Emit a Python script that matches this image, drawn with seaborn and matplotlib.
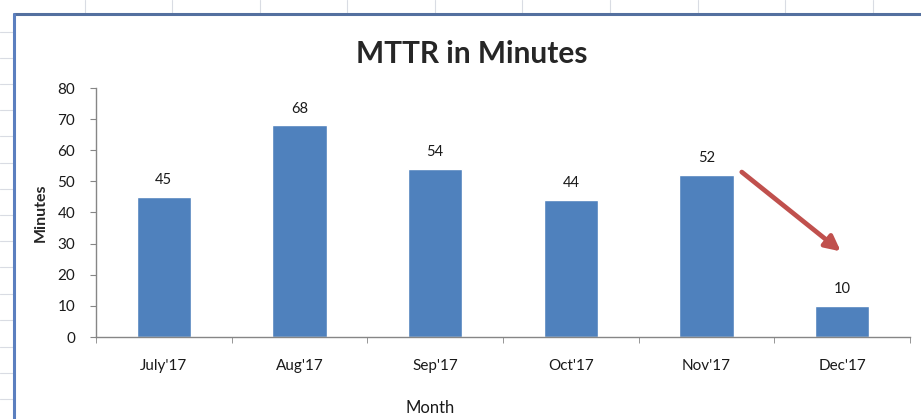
import pandas as pd
import seaborn as sns
import matplotlib.pyplot as plt
from matplotlib.lines import Line2D

# data
months = ["July'17", "Aug'17", "Sep'17", "Oct'17", "Nov'17", "Dec'17"]
mttr = [45, 68, 54, 44, 52, 10]
y_ticks = [0, 10, 20, 30, 40, 50, 60, 70, 80]

df = pd.DataFrame({'Month': months, 'Minutes': mttr})

sns.set_style("white")
plt.rcParams['font.family'] = ['Lato', 'DejaVu Sans']

fig = plt.figure(figsize=(9.21, 4.19), dpi=100)
W, H = 921, 419

# spreadsheet cell grid behind the chart
grid_c = '#d9dce3'
for gx in [85, 172, 260, 347, 435, 522, 610, 698, 785, 873]:
    fig.add_artist(Line2D([gx / W, gx / W], [1, 1 - 14 / H], color=grid_c, lw=0.8))
for gy in [32, 58, 84, 110, 136, 163, 189, 215, 241, 267, 294, 320, 347, 373, 399]:
    fig.add_artist(Line2D([0, 13.5 / W], [1 - gy / H, 1 - gy / H], color=grid_c, lw=0.8))

# chart frame
frame_c = '#5b7fbf'
fig.add_artist(Line2D([13.5 / W, 1], [1 - 14 / H, 1 - 14 / H], color='#54709f', lw=2.2))
fig.add_artist(Line2D([13.5 / W, 13.5 / W], [0, 1 - 14 / H], color=frame_c, lw=2.2))

ax = fig.add_axes([96 / W, 1 - 337 / H, (910 - 96) / W, (337 - 88) / H])

sns.barplot(data=df, x='Month', y='Minutes', color='#4f81bd', width=0.4,
            saturation=1, ax=ax)

for container in ax.containers:
    ax.bar_label(container, fmt='%d', padding=7, fontsize=10.5, color='#1a1a1a')

ax.set_xlim(-0.5, len(months) - 0.5)
ax.set_ylim(0, 80)
ax.set_yticks(y_ticks)

axis_c = '#868686'
for side in ['top', 'right']:
    ax.spines[side].set_visible(False)
for side in ['left', 'bottom']:
    ax.spines[side].set_color(axis_c)
    ax.spines[side].set_linewidth(1)

ax.tick_params(axis='y', which='major', length=4, color=axis_c, labelsize=11,
               labelcolor='#1a1a1a', pad=11, left=True)
ax.tick_params(axis='x', which='major', length=0, labelsize=11,
               labelcolor='#1a1a1a', pad=16)
ax.set_xticks([i + 0.5 for i in range(-1, len(months))], minor=True)
ax.tick_params(axis='x', which='minor', length=4, color=axis_c, bottom=True)

ax.set_ylabel('Minutes', fontsize=11.5, fontweight='bold', labelpad=7)
ax.set_xlabel('Month', fontsize=12, color='#1a1a1a')
ax.xaxis.set_label_coords((430 - 96) / (910 - 96), -0.255)
ax.set_title('MTTR in Minutes', fontsize=21.5, fontweight='bold', pad=18,
             x=(472 - 96) / (910 - 96))

# red arrow showing the drop
ax.annotate('', xy=(4.99, 27.5), xytext=(4.26, 53),
            arrowprops=dict(arrowstyle='-|>,head_length=0.9,head_width=0.45',
                            color='#c0504d', lw=3.4, shrinkA=0, shrinkB=0))

fig.savefig('out.png', dpi=100)
